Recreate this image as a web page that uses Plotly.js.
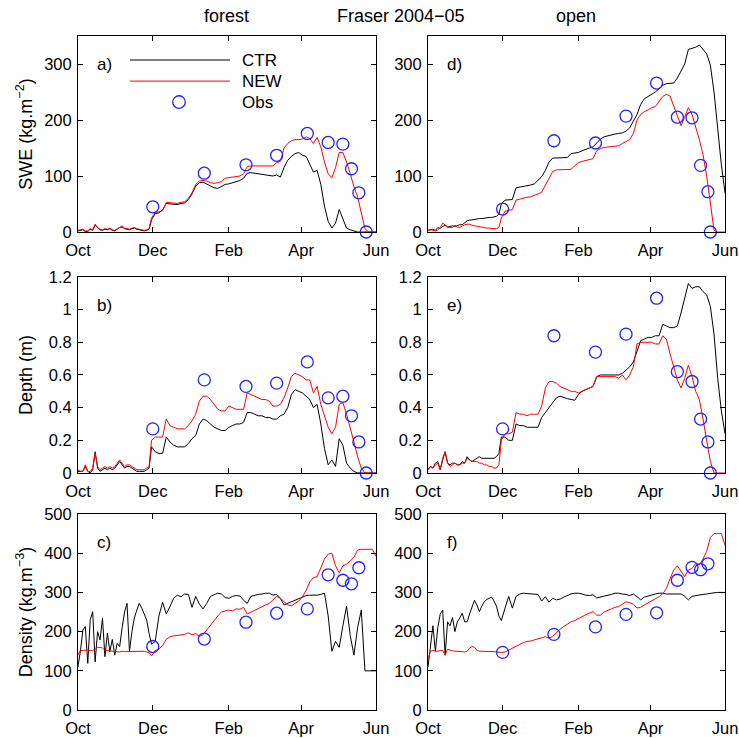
<!DOCTYPE html>
<html>
<head>
<meta charset="utf-8">
<script src="https://cdn.plot.ly/plotly-3.0.1.min.js"></script>
<style>html,body{margin:0;padding:0;background:#fff;}#chart{width:739px;height:738px;}</style>
</head>
<body>
<div id="chart"></div>
<script>
// Days since 1 Oct 2004
const days = [0,2,4,6,8,10,12,14,16,18,20,22,24,26,28,30,32,34,36,38,40,42,44,46,48,50,52,54,56,58,60,
  63,66,69,72,75,78,81,84,87,90,93,96,99,102,105,108,111,114,117,120,123,126,129,132,135,138,141,144,147,
  150,153,156,159,162,165,168,171,174,177,180,183,186,189,192,195,198,201,204,207,210,213,216,219,222,225,228,231,234,237,240,243];

const monthTickDays = [0,61,123,182,243];
const monthTickText = ['Oct','Dec','Feb','Apr','Jun'];

// a) forest SWE
const sweCtrForest = [2,3,4,1,1,5,3,12,7,4, 3,5,4,6,3,2,5,8,9,6, 5,4,6,7,5,4,3,2,3,5, 22,
  33,34,40,51,50,49,49,51,52,
  58,68,82,88,89,86,82,79,78,81,
  85,86,88,90,92,96,105,106,105,104,
  103,103,101,100,102,98,115,128,135,140,
  142,137,135,120,107,110,85,46,19,7,
  16,40,22,7,4,2,0,0,0,0,
  0,0];
const sweNewForest = [3,4,5,2,2,6,4,14,8,5, 4,6,5,7,4,3,6,9,11,7, 6,5,7,8,6,5,4,3,4,6, 25,
  35,36,38,53,52,52,51,53,54,
  60,70,85,91,92,91,88,87,88,90,
  96,97,98,99,100,104,117,118,118,117,
  117,118,117,118,124,126,150,158,163,165,
  165,166,170,167,158,169,152,125,104,97,
  115,142,142,125,104,81,63,33,6,0,
  0,0];
// d) open SWE
const sweCtrOpen = [3,4,5,3,8,6,10,12,9,10, 11,10,12,13,13,16,20,21,22,22, 23,24,24,25,25,26,26,27,28,32, 50,
  57,57,58,79,80,82,83,84,86,
  92,99,110,125,132,132,132,132,133,140,
  141,142,145,148,150,152,160,166,170,172,
  174,175,176,177,180,186,198,210,228,238,
  242,246,250,256,262,265,265,266,275,288,
  300,326,328,330,334,325,318,298,250,185,
  120,70];
const sweNewOpen = [3,4,3,2,4,8,16,12,9,8, 8,12,9,8,11,13,14,14,12,11, 10,9,9,8,7,7,6,6,6,8, 25,
  37,39,40,57,59,60,62,63,65,
  68,71,84,95,108,111,111,111,112,112,
  118,124,126,128,129,131,145,149,151,152,
  153,154,154,158,161,165,176,200,210,215,
  218,222,224,232,242,246,243,225,207,190,
  205,222,210,188,165,138,100,52,3,0,
  0,0];

// b) forest depth
const depCtrForest = [.01,.01,.01,.04,.01,.00,.02,.13,.03,.01, .02,.03,.02,.03,.02,.03,.05,.07,.05,.03, .04,.04,.03,.02,.01,.01,.01,.01,.02,.03, .16,
  .13,.12,.12,.22,.19,.17,.16,.16,.16,
  .18,.21,.23,.30,.33,.32,.30,.28,.27,.26,
  .26,.28,.29,.30,.30,.31,.37,.37,.36,.35,
  .35,.34,.34,.33,.33,.35,.36,.40,.48,.51,
  .50,.49,.47,.45,.40,.42,.30,.15,.05,.08,
  .04,.21,.17,.06,.03,.01,0,0,0,0,
  0,0];
const depNewForest = [.02,.01,.01,.05,.01,.01,.03,.12,.04,.02, .03,.04,.03,.04,.03,.04,.06,.08,.06,.04, .05,.05,.04,.03,.02,.02,.02,.02,.03,.04, .20,
  .22,.22,.22,.33,.29,.28,.27,.27,.27,
  .29,.32,.36,.44,.47,.47,.45,.42,.39,.38,
  .38,.41,.40,.39,.39,.39,.49,.48,.47,.46,
  .45,.45,.44,.41,.41,.42,.46,.52,.59,.61,
  .60,.59,.57,.57,.49,.53,.42,.35,.28,.24,
  .28,.42,.43,.36,.28,.19,.10,.03,0,0,
  0,0];
// e) open depth
const depCtrOpen = [.02,.04,.03,.06,.07,.02,.08,.13,.06,.05, .06,.06,.05,.05,.07,.06,.10,.08,.07,.08, .09,.10,.09,.09,.09,.09,.09,.09,.10,.12, .22,
  .22,.20,.20,.30,.29,.29,.28,.28,.28,
  .28,.34,.37,.40,.43,.46,.47,.46,.455,.45,
  .445,.48,.50,.51,.52,.53,.59,.60,.60,.60,
  .60,.60,.60,.61,.63,.65,.68,.75,.81,.82,
  .83,.83,.84,.84,.91,.90,.89,.89,.90,.98,
  1.08,1.16,1.13,1.14,1.14,1.11,1.09,1.02,.85,.58,
  .38,.24];
const depNewOpen = [.02,.04,.03,.05,.06,.02,.09,.13,.06,.04, .05,.06,.05,.05,.06,.06,.09,.08,.07,.07, .07,.06,.06,.05,.05,.04,.04,.03,.03,.05, .20,
  .24,.24,.25,.37,.36,.36,.35,.36,.36,
  .36,.41,.52,.56,.56,.55,.53,.52,.51,.50,
  .50,.49,.50,.51,.52,.53,.59,.59,.59,.59,
  .59,.59,.58,.60,.57,.60,.65,.79,.80,.80,
  .80,.80,.79,.79,.84,.82,.73,.65,.57,.52,
  .58,.66,.59,.50,.45,.33,.21,.07,0,0,
  0,0];

// c) forest density
const denCtrForest = [110,150,204,213,119,230,251,123,200,179, 234,136,196,149,180,140,170,162,210,250, 272,150,200,235,255,272,260,245,230,195, 168,
  175,240,275,245,264,285,293,289,296,
  295,262,290,270,258,272,290,294,298,296,
  287,285,290,292,291,280,272,290,293,295,
  296,298,298,293,295,285,268,272,275,280,
  285,289,292,293,293,293,295,298,240,150,
  175,160,215,265,190,140,210,255,100,100,
  100,100];
const denNewForest = [140,152,152,153,153,152,152,155,160,160, 158,152,152,151,150,150,149,148,150,149, 149,149,150,150,150,149,149,150,148,147, 138,
  152,155,165,180,187,189,190,192,193,
  197,192,195,188,192,205,215,228,240,250,
  253,255,253,258,257,262,245,250,253,258,
  265,268,272,280,290,285,276,268,266,272,
  278,289,305,327,338,340,362,385,398,400,
  368,350,368,372,380,390,408,410,410,410,
  410,392];
// f) open density
const denCtrOpen = [110,165,215,150,210,245,255,140,225,215, 236,200,225,235,247,225,225,245,264,280, 268,251,265,276,282,285,288,278,265,240, 228,
  260,290,260,290,296,298,297,296,295,
  295,278,289,275,285,281,283,288,293,296,
  298,298,296,293,292,294,286,288,291,292,
  295,298,298,296,295,292,296,289,281,288,
  291,293,296,298,298,296,296,295,295,296,
  290,281,290,292,293,295,296,298,299,300,
  300,300];
const denNewOpen = [130,150,152,150,150,152,152,140,155,152, 151,150,150,150,149,148,150,158,162,160, 152,150,150,150,150,150,149,149,148,147, 147,
  148,153,158,163,168,172,175,176,179,
  181,184,187,183,188,198,206,213,220,225,
  228,234,238,243,247,251,242,242,250,255,
  258,262,264,270,276,274,270,260,262,268,
  273,279,284,289,296,310,335,357,368,355,
  340,357,361,374,370,385,405,440,450,450,
  450,420];

// Observations
const obsDayForest = [61,103,137,162,187,204,216,223,229,235];
const obsDayOpen   = [61,103,137,162,187,204,216,223,229,231];
const sweObsForest = [45,105,120,137,176,160,157,113,70,0];
const sweObsOpen   = [41,163,159,207,266,205,204,119,72,0];
const depObsForest = [0.27,0.57,0.53,0.55,0.68,0.46,0.47,0.35,0.19,0];
const depObsOpen   = [0.27,0.84,0.74,0.85,1.07,0.62,0.56,0.33,0.19,0];
const denObsForest = [162,181,224,247,258,345,331,322,363];
const denObsOpen   = [147,193,212,244,248,331,364,358,373];

const seriesNames = ['CTR','NEW','Obs'];
const panelLabels = ['a)','b)','c)','d)','e)','f)'];
const colTitles = ['forest','Fraser 2004\u221205','open'];

// sanity check
[sweCtrForest,sweNewForest,sweCtrOpen,sweNewOpen,depCtrForest,depNewForest,depCtrOpen,depNewOpen,
 denCtrForest,denNewForest,denCtrOpen,denNewOpen].forEach((a,i)=>{
  if (a.length !== days.length) throw new Error('length mismatch series '+i+': '+a.length+' vs '+days.length);
});

const BLUE = 'rgb(35,35,255)';
const panels = [
  {ctr:sweCtrForest, nw:sweNewForest, od:obsDayForest, ov:sweObsForest},
  {ctr:depCtrForest, nw:depNewForest, od:obsDayForest, ov:depObsForest},
  {ctr:denCtrForest, nw:denNewForest, od:obsDayForest.slice(0,denObsForest.length), ov:denObsForest},
  {ctr:sweCtrOpen, nw:sweNewOpen, od:obsDayOpen, ov:sweObsOpen},
  {ctr:depCtrOpen, nw:depNewOpen, od:obsDayOpen, ov:depObsOpen},
  {ctr:denCtrOpen, nw:denNewOpen, od:obsDayOpen.slice(0,denObsOpen.length), ov:denObsOpen}
];

const traces = [];
panels.forEach((p,i)=>{
  const n = i===0 ? '' : String(i+1);
  traces.push({x:days, y:p.ctr, xaxis:'x'+n, yaxis:'y'+n, type:'scatter', mode:'lines',
    name:seriesNames[0], line:{color:'#000', width:1}, showlegend:false});
  traces.push({x:days, y:p.nw, xaxis:'x'+n, yaxis:'y'+n, type:'scatter', mode:'lines',
    name:seriesNames[1], line:{color:'#ff0000', width:1}, showlegend:false});
  traces.push({x:p.od, y:p.ov, xaxis:'x'+n, yaxis:'y'+n, type:'scatter', mode:'markers',
    name:seriesNames[2], cliponaxis:false,
    marker:{symbol:'circle-open', size:12, color:BLUE, line:{color:BLUE, width:1.3}}, showlegend:false});
});

const xDom = [[0.1055,0.5088],[0.5792,0.9811]];
const yDom = [[0.6856,0.9512],[0.3591,0.6247],[0.0379,0.3035]];
const yRanges = [[0,350],[0,1.2],[0,500]];
const yDticks = [100,0.2,100];
const yTitles = ['SWE (kg.m<sup>\u22122</sup>)','Depth (m)','Density (kg.m<sup>\u22123</sup>)'];

const FONT = 'Liberation Sans, Arial, Helvetica, sans-serif';
const layout = {
  width:739, height:738,
  margin:{l:0,r:0,t:0,b:0},
  paper_bgcolor:'#fff', plot_bgcolor:'#fff',
  font:{family:FONT, size:17, color:'#000'},
  showlegend:false,
  annotations:[], shapes:[]
};

panels.forEach((p,i)=>{
  const n = i===0 ? '' : String(i+1);
  const col = i<3 ? 0 : 1;
  const row = i%3;
  layout['xaxis'+n] = {domain:xDom[col], anchor:'y'+n, range:[0,243],
    tickmode:'array', tickvals:monthTickDays, ticktext:monthTickText,
    ticks:'inside', ticklen:5, tickcolor:'#000', mirror:'ticks', showline:true, linecolor:'#000', linewidth:1,
    showgrid:false, zeroline:false, tickfont:{size:16.5}, ticklabelstandoff:3, fixedrange:true};
  const ya = {domain:yDom[row], anchor:'x'+n, range:yRanges[row], dtick:yDticks[row], tick0:0,
    ticks:'inside', ticklen:5, tickcolor:'#000', mirror:'ticks', showline:true, linecolor:'#000', linewidth:1,
    showgrid:false, zeroline:false, tickfont:{size:16.5}, ticklabelstandoff:2, fixedrange:true};
  if (col===0) ya.title = {text:yTitles[row], font:{size:18}};
  layout['yaxis'+n] = ya;
  layout.annotations.push({text:panelLabels[i], xref:'x'+n+' domain', yref:'y'+n+' domain',
    x:0.057, y:0.857, xanchor:'left', yanchor:'middle', showarrow:false, font:{size:17}});
});

// column titles
[[0.307,colTitles[0]],[0.543,colTitles[1]],[0.779,colTitles[2]]].forEach(([x,t])=>{
  layout.annotations.push({text:t, xref:'paper', yref:'paper', x:x, y:0.978, xanchor:'center', yanchor:'middle',
    showarrow:false, font:{size:18}});
});

// legend in panel a)
const legY = [0.8776, 0.770, 0.663];
layout.shapes.push({type:'line', xref:'x domain', yref:'y domain', x0:0.1745, x1:0.51, y0:legY[0], y1:legY[0], line:{color:'#000', width:1}});
layout.shapes.push({type:'line', xref:'x domain', yref:'y domain', x0:0.1745, x1:0.51, y0:legY[1], y1:legY[1], line:{color:'#ff0000', width:1}});
layout.shapes.push({type:'circle', xref:'x domain', yref:'y domain', xsizemode:'pixel', ysizemode:'pixel',
  xanchor:0.339, yanchor:legY[2], x0:-6.3, x1:6.3, y0:-6.3, y1:6.3, line:{color:BLUE, width:1.3}});
seriesNames.forEach((s,k)=>{
  layout.annotations.push({text:s, xref:'x domain', yref:'y domain', x:0.544, y:legY[k], xanchor:'left', yanchor:'middle',
    showarrow:false, font:{size:17}});
});

Plotly.newPlot('chart', traces, layout, {displayModeBar:false, staticPlot:true});
</script>
</body>
</html>
